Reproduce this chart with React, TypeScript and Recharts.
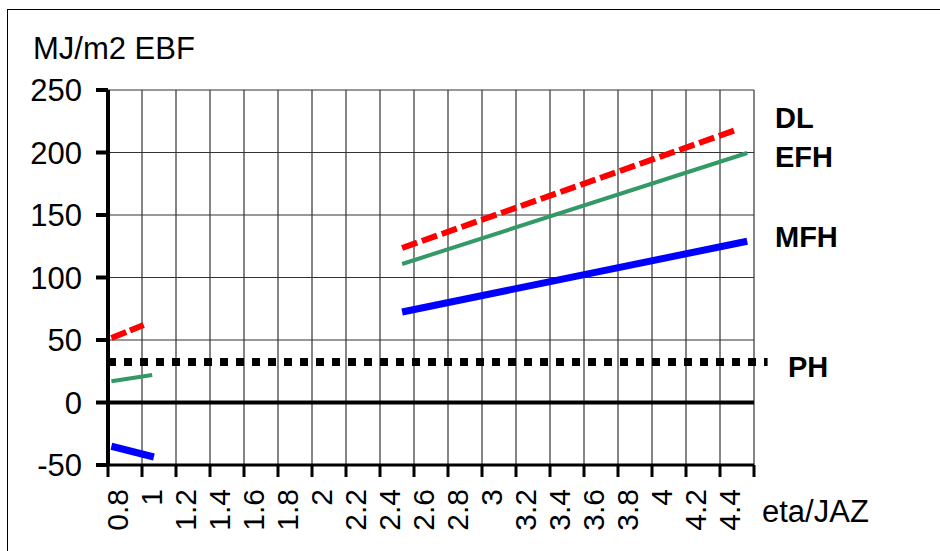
import { LineChart, Line, XAxis, YAxis, CartesianGrid, ReferenceLine } from 'recharts'

// x axis: eta / JAZ, ticks every 0.2 (last tick unlabeled)
const xTicks = [0.8, 1, 1.2, 1.4, 1.6, 1.8, 2, 2.2, 2.4, 2.6, 2.8, 3, 3.2, 3.4, 3.6, 3.8, 4, 4.2, 4.4, 4.6]
const xTickLabels = ['0.8', '1', '1.2', '1.4', '1.6', '1.8', '2', '2.2', '2.4', '2.6', '2.8', '3', '3.2', '3.4', '3.6', '3.8', '4', '4.2', '4.4', '']
const yTicks = [-50, 0, 50, 100, 150, 200, 250]

// boiler range (eta) and heat pump range (JAZ)
const dlBoilerEta = [0.82, 1.01]
const dlBoiler = [51.6, 62]
const dlPumpEta = [2.53, 4.51]
const dlPump = [123.6, 218.8]

const efhBoilerEta = [0.82, 1.06]
const efhBoiler = [17, 22]
const efhPumpEta = [2.53, 4.56]
const efhPump = [110.8, 199.6]

const mfhBoilerEta = [0.82, 1.07]
const mfhBoiler = [-35, -43.6]
const mfhPumpEta = [2.53, 4.56]
const mfhPump = [72.4, 129]

const phValue = 32.5
const phRange = [0.8, 4.68]

const toPoints = (xs: number[], ys: number[]) => xs.map((x, i) => ({ x, y: ys[i] }))

const FONT = '"Liberation Sans", Arial, sans-serif'

function XTick(props: any) {
  const { x, y, payload } = props
  const idx = xTicks.indexOf(payload.value)
  const label = idx >= 0 ? xTickLabels[idx] : ''
  return (
    <text
      x={x}
      y={y}
      dy={20}
      transform={`rotate(-90, ${x}, ${y})`}
      textAnchor="end"
      fontSize={30}
      fontFamily={FONT}
      fill="#000"
    >
      {label}
    </text>
  )
}

export default function App() {
  return (
    <div style={{ position: 'relative', width: 940, height: 551, background: '#fff', overflow: 'hidden' }}>
      <style>{'body{margin:0}'}</style>
      <div
        style={{
          position: 'absolute',
          left: 7,
          top: 9,
          width: 960,
          height: 560,
          borderLeft: '1px solid #000',
          borderTop: '1px solid #000',
        }}
      />
      <LineChart width={940} height={551} margin={{ top: 90, right: 186, bottom: 16, left: 8 }}>
        <CartesianGrid stroke="#333" strokeWidth={1.2} verticalValues={xTicks} horizontalValues={yTicks} />
        <XAxis
          type="number"
          dataKey="x"
          domain={[0.8, 4.6]}
          ticks={xTicks}
          interval={0}
          height={70}
          tickSize={12}
          tickMargin={12}
          axisLine={{ stroke: '#000', strokeWidth: 3 }}
          tickLine={{ stroke: '#000', strokeWidth: 3 }}
          tick={<XTick />}
        />
        <YAxis
          type="number"
          dataKey="y"
          domain={[-50, 250]}
          ticks={yTicks}
          interval={0}
          width={100}
          tickSize={12}
          tickMargin={14}
          axisLine={{ stroke: '#000', strokeWidth: 4 }}
          tickLine={{ stroke: '#000', strokeWidth: 4 }}
          tick={{ fontSize: 31, fontFamily: FONT, fill: '#000' }}
        />
        <ReferenceLine y={0} stroke="#000" strokeWidth={4} />
        <ReferenceLine
          segment={[
            { x: phRange[0], y: phValue },
            { x: phRange[1], y: phValue },
          ]}
          ifOverflow="visible"
          stroke="#000"
          strokeWidth={8}
          strokeDasharray="8 8"
        />
        <Line data={toPoints(efhBoilerEta, efhBoiler)} dataKey="y" stroke="#339966" strokeWidth={4} dot={false} isAnimationActive={false} />
        <Line data={toPoints(efhPumpEta, efhPump)} dataKey="y" stroke="#339966" strokeWidth={4} dot={false} isAnimationActive={false} />
        <Line data={toPoints(mfhBoilerEta, mfhBoiler)} dataKey="y" stroke="#0000ff" strokeWidth={7} dot={false} isAnimationActive={false} />
        <Line data={toPoints(mfhPumpEta, mfhPump)} dataKey="y" stroke="#0000ff" strokeWidth={7} dot={false} isAnimationActive={false} />
        <Line data={toPoints(dlBoilerEta, dlBoiler)} dataKey="y" stroke="#ff0000" strokeWidth={6} strokeDasharray="16 4" dot={false} isAnimationActive={false} />
        <Line data={toPoints(dlPumpEta, dlPump)} dataKey="y" stroke="#ff0000" strokeWidth={6} strokeDasharray="16 5" dot={false} isAnimationActive={false} />
      </LineChart>
      <svg width={940} height={551} style={{ position: 'absolute', left: 0, top: 0, pointerEvents: 'none' }}>
        <g fontFamily={FONT} fill="#000">
          <text x={33} y={59} fontSize={31}>MJ/m2 EBF</text>
          <text x={762} y={522} fontSize={31}>eta/JAZ</text>
          <g fontSize={29} fontWeight="bold">
            <text x={775} y={128}>DL</text>
            <text x={775} y={167}>EFH</text>
            <text x={775} y={247}>MFH</text>
            <text x={788} y={377}>PH</text>
          </g>
        </g>
      </svg>
    </div>
  )
}
